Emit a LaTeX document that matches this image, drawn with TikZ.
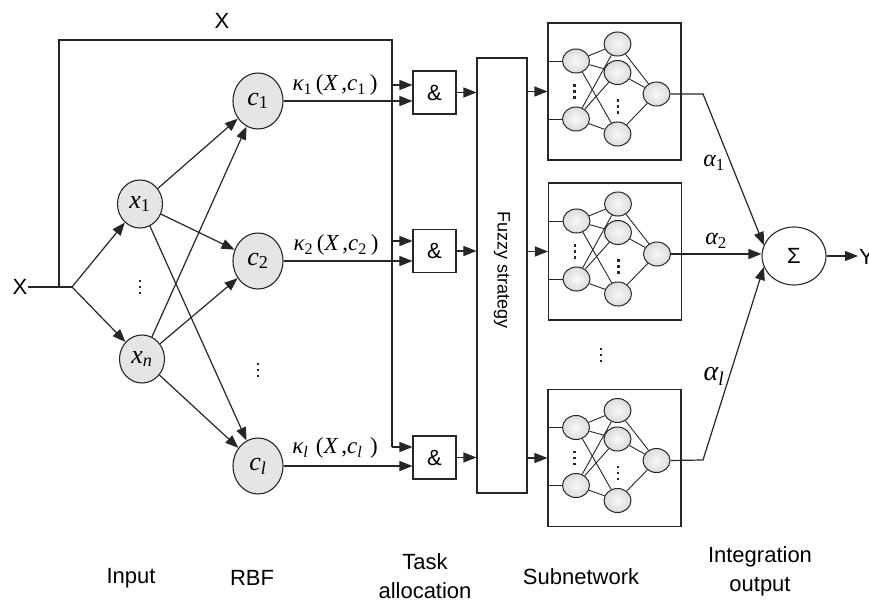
\documentclass[tikz,border=0pt]{standalone}
\usepackage[no-math]{fontspec}
\setmainfont{Liberation Sans}
\newfontfamily\tm{Liberation Serif}
\usetikzlibrary{arrows.meta,shapes.geometric,calc}
\newcommand{\vs}[2]{{\tm\itshape #1}\textsubscript{\tm #2}}
\newcommand{\vdotmark}[2]{\foreach \k in {-1,0,1} {\fill[black!85] (#1-1.3,#2+\k*6-1.3) rectangle +(2.6,2.6);}}
\newcommand{\subnet}[3]{%
\begin{scope}[shift={(#2,#3)}]
\node[netbox] (#1) at (0,0) {};
\node[sn] (#1a) at (-38.5,-30.5) {};
\node[sn] (#1b) at (-38.5,27.5) {};
\node[sn] (#1h) at (3,-47.5) {};
\node[sn] (#1j) at (3,-19) {};
\node[sn] (#1k) at (3,42.5) {};
\node[sn] (#1o) at (42,2.5) {};
\vdotmark{-40}{0}
\vdotmark{3.5}{15}
\foreach \u in {a,b} {\foreach \v in {h,j,k} {\draw[thin ln] (#1\u) -- (#1\v);}}
\foreach \v in {h,j,k} {\draw[thin ln] (#1\v) -- (#1o);}
\draw[thin ln] (#1a.west -| #1.west) -- (#1a.west);
\draw[thin ln] (#1b.west -| #1.west) -- (#1b.west);
\end{scope}}
\begin{document}
\begin{tikzpicture}[x=1pt,y=-1pt,
  ln/.style={line width=1.2pt, draw=black!85},
  thin ln/.style={line width=0.9pt, draw=black!85},
  arr/.style={ln,-{Triangle[length=13pt,width=10pt]}},
  inode/.style={ellipse, draw=black!85, line width=1.1pt, fill=gray!20, minimum width=45, minimum height=48, inner sep=0, font=\fontsize{26}{30}\selectfont},
  cnode/.style={inode, minimum width=50, minimum height=56},
  andbox/.style={draw=black!85, line width=1.1pt, minimum width=43, minimum height=43, inner sep=0, font=\fontsize{22}{26}\selectfont},
  netbox/.style={draw=black!85, line width=1.1pt, minimum width=133, minimum height=137, inner sep=0},
  sn/.style={ellipse, draw=black!85, line width=1pt, minimum width=27, minimum height=24, inner sep=0, inner color=gray!5, outer color=gray!28},
  lab/.style={inner sep=0, font=\fontsize{22}{29}\selectfont, align=center},
  mlab/.style={inner sep=0, font=\fontsize{23}{26}\selectfont},
  alab/.style={inner sep=0, font=\fontsize{24}{26}\selectfont},
]
\useasboundingbox (0,0) rectangle (869,599);
% input side
\node[lab] (Xin) at (20,287) {X};
\node[lab] (Xtop) at (222,21) {X};
\coordinate (br) at (72,287);
\coordinate (bl) at (59,287);
\coordinate (tl) at (59,40);
\coordinate (tr) at (392,40);
\coordinate (v1) at (392,85);
\coordinate (v2) at (392,241);
\coordinate (v3) at (392,447);
\node[inode] (x1) at (140,204) {\vs{x}{1}};
\node[inode] (xn) at (142,359) {\vs{x}{\itshape n}};
\vdotmark{140}{287}
\node[cnode] (c1) at (258,101) {\vs{c}{1}};
\node[cnode] (c2) at (258,261) {\vs{c}{2}};
\node[cnode] (cl) at (258,466) {\vs{c}{\itshape l}};
\vdotmark{258}{370}
\draw[ln] (Xin.east) -- (br);
\draw[arr] (br) -- (x1);
\draw[arr] (br) -- (xn);
\foreach \s in {x1,xn} {\foreach \t in {c1,c2,cl} {\draw[arr] (\s) -- (\t);}}
% and boxes
\node[andbox] (a1) at (434.5,92.5) {\&};
\node[andbox] (a2) at (434.5,251) {\&};
\node[andbox] (a3) at (434.5,457.5) {\&};
\draw[ln] (bl) -- (tl) -- (tr) -- (v3);
\draw[arr] (v3) -- (v3 -| a3.west);
\draw[arr] (v1) -- (v1 -| a1.west);
\draw[arr] (v2) -- (v2 -| a2.west);
\draw[arr] (c1.east) -- (c1.east -| a1.west);
\draw[arr] (c2.east) -- (c2.east -| a2.west);
\draw[arr] (cl.east) -- (cl.east -| a3.west);
\node[mlab] (k1) at (335,85) {{\tm\itshape κ}\textsubscript{\tm 1}\,{\tm (\itshape X\,\upshape,\itshape c}\textsubscript{\tm 1}\,{\tm )}};
\node[mlab] (k2) at (336,245) {{\tm\itshape κ}\textsubscript{\tm 2}\,{\tm (\itshape X\,\upshape,\itshape c}\textsubscript{\tm 2}\,{\tm )}};
\node[mlab] (kl) at (335,448) {{\tm\itshape κ}\textsubscript{\tm\itshape l}\,\,{\tm (\itshape X\,\upshape,\itshape c}\textsubscript{\tm\itshape l}\,\,{\tm )}};
% fuzzy strategy
\node[draw=black!85, line width=1.1pt, minimum width=50, minimum height=435, inner sep=0] (fz) at (502,275.5) {};
\node[inner sep=0, rotate=-90, font=\fontsize{18}{20}\selectfont] (fzt) at (502,270) {Fuzzy strategy};
\draw[arr] (a1.east) -- (a1.east -| fz.west);
\draw[arr] (a2.east) -- (a2.east -| fz.west);
\draw[arr] (a3.east) -- (a3.east -| fz.west);
% subnetworks
\subnet{s1}{614.5}{91.5}
\subnet{s2}{615}{251.5}
\subnet{s3}{614.5}{458}
\vdotmark{601}{355}
\draw[arr] (s1.west -| fz.east) -- (s1.west);
\draw[arr] (s2.west -| fz.east) -- (s2.west);
\draw[arr] (s3.west -| fz.east) -- (s3.west);
% integration
\node[ellipse, draw=black!85, line width=1.1pt, minimum width=64, minimum height=58, inner sep=0, font=\fontsize{22}{26}\selectfont] (sum) at (794,256) {Σ};
\coordinate (m1) at (703,94);
\coordinate (m3) at (703,460);
\draw[arr] (s1o.east) -- (m1) -- (sum.160);
\draw[arr] (s2o.east) -- (s2o.east -| sum.west);
\draw[arr] (s3o.east) -- (m3) -- (sum.200);
\node[alab] (al1) at (714,163) {{\tm\itshape α}\textsubscript{\tm 1}};
\node[alab] (al2) at (716,241) {{\tm\itshape α}\textsubscript{\tm 2}};
\node[alab, font=\fontsize{28}{30}\selectfont] (all) at (714,376) {{\tm\itshape α}\textsubscript{\tm\itshape l}};
\coordinate (yend) at (858,256);
\draw[arr] (sum.east) -- (yend);
\node[lab, anchor=west] (Y) at (859,257) {Y};
% bottom labels
\node[lab] (tin) at (131,578) {Input};
\node[lab] (trbf) at (252,578) {RBF};
\node[lab] (ttask) at (425,576) {Task\\allocation};
\node[lab] (tsub) at (581,577) {Subnetwork};
\node[lab] (tint) at (760,571) {Integration\\output};
\end{tikzpicture}
\end{document}
